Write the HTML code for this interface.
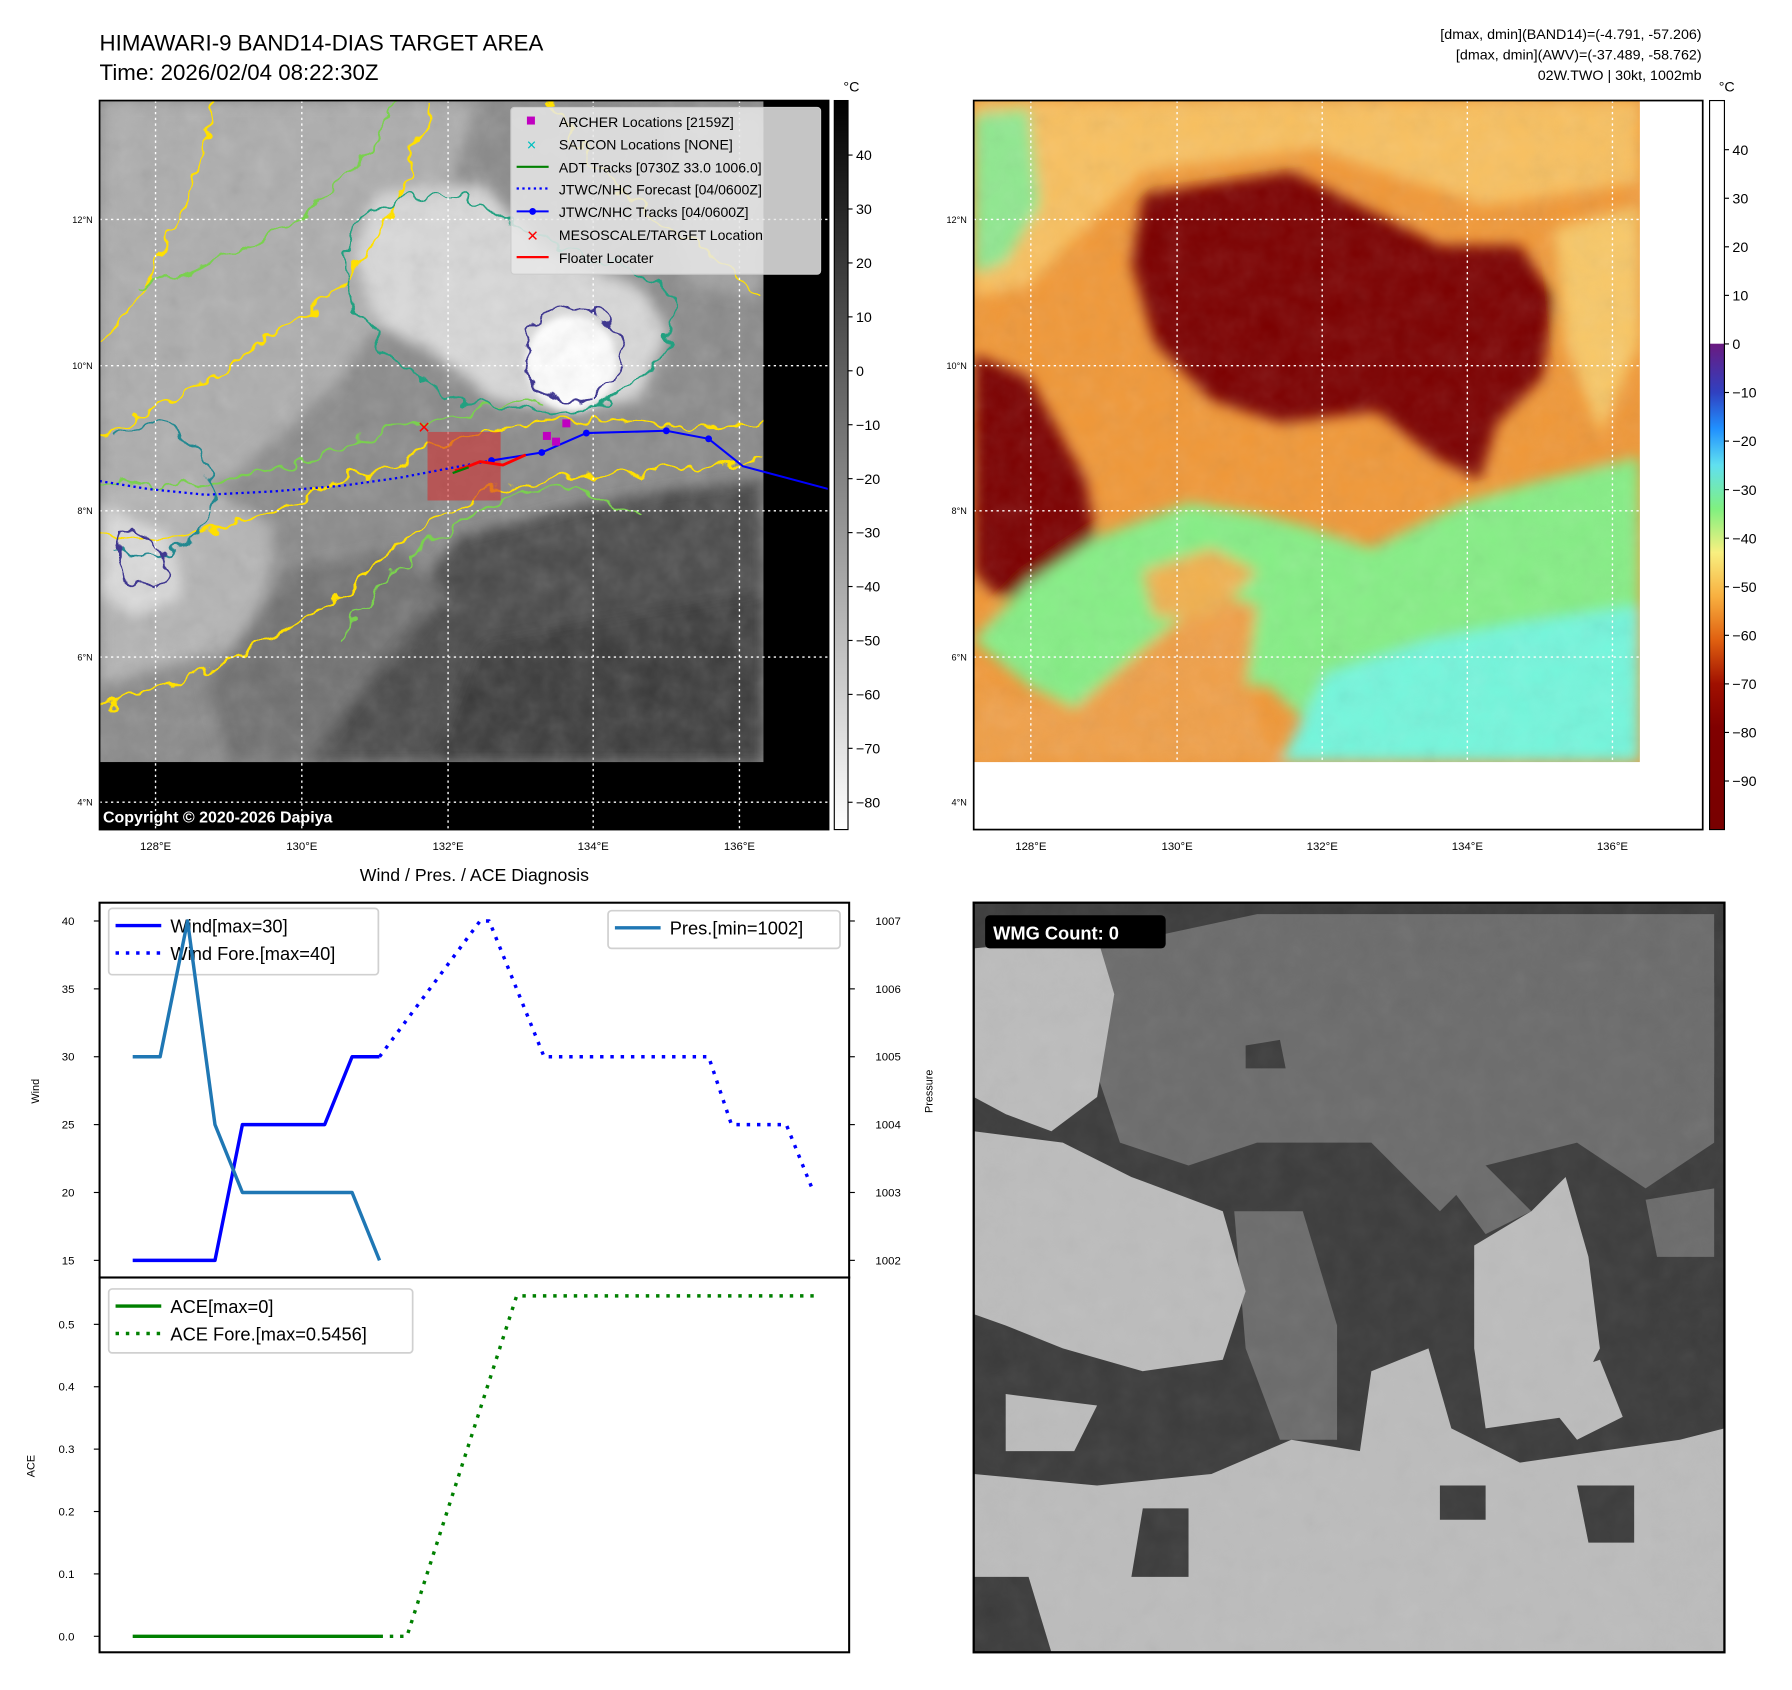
<!DOCTYPE html>
<html><head><meta charset="utf-8"><style>
html,body{margin:0;padding:0;background:#fff;}
svg{display:block;font-family:"Liberation Sans","DejaVu Sans",sans-serif;}
</style></head><body>
<svg id="fig" width="1792" height="1690" viewBox="0 0 1568 1479" xmlns="http://www.w3.org/2000/svg">
<defs>
<filter id="blur6" x="-20%" y="-20%" width="140%" height="140%"><feGaussianBlur stdDeviation="6"/></filter>
<filter id="blur3"><feGaussianBlur stdDeviation="3"/></filter>
<filter id="wig" x="-10%" y="-10%" width="120%" height="120%"><feTurbulence type="fractalNoise" baseFrequency="0.06" numOctaves="2" seed="3" result="n"/><feDisplacementMap in="SourceGraphic" in2="n" scale="22" xChannelSelector="R" yChannelSelector="G"/></filter>
<filter id="tex"><feTurbulence type="fractalNoise" baseFrequency="0.05" numOctaves="3" seed="7"/><feColorMatrix type="saturate" values="0"/></filter>
<linearGradient id="cbGray" x1="0" y1="0" x2="0" y2="1"><stop offset="0" stop-color="#000"/><stop offset="1" stop-color="#fff"/></linearGradient>
<linearGradient id="cbColor" x1="0" y1="0" x2="0" y2="1">
<stop offset="0" stop-color="#fff"/><stop offset="0.333" stop-color="#fff"/>
<stop offset="0.334" stop-color="#6a1a80"/><stop offset="0.40" stop-color="#3040c0"/><stop offset="0.45" stop-color="#2090ff"/>
<stop offset="0.50" stop-color="#60e0f0"/><stop offset="0.56" stop-color="#80f080"/><stop offset="0.62" stop-color="#f8f080"/>
<stop offset="0.68" stop-color="#f8b040"/><stop offset="0.74" stop-color="#e06010"/><stop offset="0.80" stop-color="#a01000"/>
<stop offset="0.86" stop-color="#800000"/><stop offset="1" stop-color="#780000"/></linearGradient>
<clipPath id="clipL"><rect x="87" y="88" width="581" height="579"/></clipPath>
<clipPath id="clipR"><rect x="852" y="88" width="583" height="579"/></clipPath>
<clipPath id="clipBR"><rect x="852" y="790" width="657" height="656"/></clipPath>
</defs>

<text x="87" y="44" font-size="19.5">HIMAWARI-9 BAND14-DIAS TARGET AREA</text>
<text x="87" y="70" font-size="19.5">Time: 2026/02/04 08:22:30Z</text>
<g font-size="12.5" text-anchor="end">
<text x="1489" y="34">[dmax, dmin](BAND14)=(-4.791, -57.206)</text>
<text x="1489" y="52">[dmax, dmin](AWV)=(-37.489, -58.762)</text>
<text x="1489" y="70">02W.TWO | 30kt, 1002mb</text>
</g>

<!-- LEFT MAP -->
<g>
<rect x="87" y="88" width="638" height="638" fill="#000"/>
<g clip-path="url(#clipL)">
<rect x="87" y="88" width="581" height="579" fill="#8a8a8a"/>
<g filter="url(#blur6)">
<polygon points="87,88 420,88 380,200 300,330 200,420 87,440" fill="#adadad"/>
<polygon points="87,430 170,420 240,460 230,560 87,600" fill="#b4b4b4"/>
<polygon points="87,440 150,470 160,520 120,540 87,520" fill="#dadada"/>
<polygon points="330,170 420,160 480,220 560,250 585,290 560,350 500,360 430,350 380,310 330,285 310,220" fill="#d8d8d8"/>
<polygon points="580,100 668,100 668,260 600,250" fill="#a0a0a0"/>
<polygon points="400,470 500,445 580,430 668,420 668,667 270,667 300,600 350,540" fill="#4a4a4a"/>
<polygon points="250,500 350,480 390,520 320,600 270,667 200,667 180,600" fill="#707070"/>
<polygon points="420,560 668,520 668,667 380,667" fill="#3a3a3a"/>
</g>
<ellipse cx="500" cy="318" rx="40" ry="42" fill="#fff" filter="url(#blur3)"/>
<rect x="87" y="88" width="581" height="579" filter="url(#tex)" opacity="0.2"/>
<g fill="none" stroke-width="2" filter="url(#wig)">
<path d="M87,470 C150,480 220,460 300,420 C360,400 400,380 460,370 C520,360 580,380 668,370" stroke="#ffe000"/>
<path d="M87,620 C160,600 240,560 300,520 C340,480 380,450 430,430 C500,410 560,420 668,400" stroke="#ffe000"/>
<path d="M87,380 C150,360 230,300 300,250 C340,200 360,150 380,88" stroke="#ffe000"/>
<path d="M87,300 C130,260 160,200 190,88" stroke="#ffe000"/>
<path d="M480,88 C520,150 560,190 620,220 C650,240 668,260 668,260" stroke="#ffe000"/>
<path d="M300,560 C330,500 380,470 430,440 C470,420 520,430 560,450" stroke="#7ad050"/>
<path d="M87,420 C150,430 230,420 300,390 C360,370 420,360 470,350" stroke="#7ad050"/>
<path d="M120,250 C200,230 260,200 300,160 C330,120 340,100 350,88" stroke="#7ad050"/>
<path d="M310,200 C330,170 400,160 440,190 C480,220 560,230 590,260 C590,330 540,350 500,360 C440,370 360,340 330,300 C300,260 300,230 310,200 Z" stroke="#20a080"/>
<path d="M100,380 C140,360 180,380 190,430 C180,480 140,500 100,480" stroke="#208890"/>
<path d="M470,280 C500,260 540,270 545,310 C540,350 500,365 470,340 C455,320 455,295 470,280 Z" stroke="#403890"/>
<path d="M105,465 C130,460 150,480 145,505 C130,520 110,515 105,495 Z" stroke="#403890"/>
</g>
</g>
<g stroke="#fff" stroke-width="1.2" stroke-dasharray="2,3">
<line x1="136" y1="88" x2="136" y2="726"/><line x1="264" y1="88" x2="264" y2="726"/><line x1="392" y1="88" x2="392" y2="726"/><line x1="519" y1="88" x2="519" y2="726"/><line x1="647" y1="88" x2="647" y2="726"/>
<line x1="87" y1="192" x2="725" y2="192"/><line x1="87" y1="320" x2="725" y2="320"/><line x1="87" y1="447" x2="725" y2="447"/><line x1="87" y1="575" x2="725" y2="575"/><line x1="87" y1="702" x2="725" y2="702"/>
</g>
<rect x="374" y="378" width="64" height="60" fill="#d03030" opacity="0.6"/>
<polyline points="87,421 130,428 180,433 240,430 300,425 350,418 392,410 430,403" fill="none" stroke="#0000ff" stroke-width="2" stroke-dasharray="2,3"/>
<polyline points="430,403 474,396 513,379 583,377 620,384 650,408 725,428" fill="none" stroke="#0000ff" stroke-width="1.8"/>
<g fill="#0000ff"><circle cx="430" cy="403" r="3"/><circle cx="474" cy="396" r="3"/><circle cx="513" cy="379" r="3"/><circle cx="583" cy="377" r="3"/><circle cx="620" cy="384" r="3"/></g>
<polyline points="398,412 410,408 420,404 440,407 460,398" fill="none" stroke="#ff0000" stroke-width="2.5"/>
<line x1="396" y1="414" x2="410" y2="409" stroke="#008000" stroke-width="2"/>
<text x="371" y="379" font-size="14" fill="#ff0000" font-weight="bold" text-anchor="middle">✕</text>
<g fill="#c000c0"><rect x="475" y="378" width="7" height="7"/><rect x="483" y="383" width="7" height="7"/><rect x="492" y="367" width="7" height="7"/></g>
<g>
<rect x="447" y="94" width="271" height="146" rx="3" fill="#e8e8e8" fill-opacity="0.85" stroke="#ccc"/>
<g font-size="12.3">
<rect x="461" y="102" width="7" height="7" fill="#c000c0"/><text x="489" y="111">ARCHER Locations [2159Z]</text>
<text x="465" y="131" font-size="11" fill="#00c0c0" text-anchor="middle" font-weight="bold">✕</text><text x="489" y="131">SATCON Locations [NONE]</text>
<line x1="452" y1="146" x2="480" y2="146" stroke="#008000" stroke-width="1.8"/><text x="489" y="151">ADT Tracks [0730Z 33.0 1006.0]</text>
<line x1="452" y1="165" x2="480" y2="165" stroke="#0000ff" stroke-width="2" stroke-dasharray="2,3"/><text x="489" y="170">JTWC/NHC Forecast [04/0600Z]</text>
<line x1="452" y1="185" x2="480" y2="185" stroke="#0000ff" stroke-width="1.8"/><circle cx="466" cy="185" r="3" fill="#0000ff"/><text x="489" y="190">JTWC/NHC Tracks [04/0600Z]</text>
<text x="466" y="211" font-size="13" fill="#ff0000" text-anchor="middle" font-weight="bold">✕</text><text x="489" y="210">MESOSCALE/TARGET Location</text>
<line x1="452" y1="225" x2="480" y2="225" stroke="#ff0000" stroke-width="2"/><text x="489" y="230">Floater Locater</text>
</g></g>
<rect x="87" y="88" width="638" height="638" fill="none" stroke="#000" stroke-width="1.5"/>
<text x="90" y="720" font-size="14" font-weight="bold" fill="#fff">Copyright © 2020-2026 Dapiya</text>
</g>
<g font-size="8" text-anchor="end">
<text x="81" y="195">12°N</text><text x="81" y="323">10°N</text><text x="81" y="450">8°N</text><text x="81" y="578">6°N</text><text x="81" y="705">4°N</text></g>
<g font-size="10" text-anchor="middle">
<text x="136" y="744">128°E</text><text x="264" y="744">130°E</text><text x="392" y="744">132°E</text><text x="519" y="744">134°E</text><text x="647" y="744">136°E</text></g>
<g>
<rect x="730" y="88" width="12" height="638" fill="url(#cbGray)" stroke="#000" stroke-width="1"/>
<text x="738" y="80" font-size="12.5">°C</text>
<g font-size="12.5" id="cbL"></g>
</g>

<!-- RIGHT MAP -->
<g>
<rect x="852" y="88" width="638" height="638" fill="#fff"/>
<g clip-path="url(#clipR)">
<rect x="852" y="88" width="583" height="579" fill="#f09838"/>
<g filter="url(#blur6)">
<polygon points="852,88 1435,88 1435,160 1300,180 1150,130 1000,150 900,250 852,260" fill="#f8c060"/>
<polygon points="852,100 900,95 910,180 880,230 852,240" fill="#90e890"/>
<polygon points="1360,200 1435,180 1435,300 1400,380 1370,300" fill="#f8c868"/>
<polygon points="1000,170 1130,150 1210,190 1260,215 1330,215 1360,260 1350,330 1310,370 1295,420 1255,400 1205,360 1120,370 1060,350 1010,300 990,230" fill="#7c0000"/>
<polygon points="852,310 900,330 950,420 962,490 925,530 870,520 852,500" fill="#7c0000"/>
<polygon points="852,560 900,510 960,470 1040,440 1100,450 1140,460 1200,480 1280,440 1350,420 1435,400 1435,667 1180,667 1110,600 1060,600 1000,620 960,630 900,600" fill="#86ee86"/>
<polygon points="852,600 940,620 1010,560 1060,520 1100,530 1090,600 1120,667 852,667" fill="#f0a048"/>
<polygon points="1120,667 1160,590 1250,560 1330,545 1435,530 1435,667" fill="#74f6dc"/>
<polygon points="1000,500 1060,480 1100,500 1060,540 1010,540" fill="#f0b050"/>
</g>
<rect x="852" y="88" width="583" height="579" filter="url(#tex)" opacity="0.12"/>
</g>
<g stroke="#fff" stroke-width="1.2" stroke-dasharray="2,3">
<line x1="902" y1="88" x2="902" y2="667"/><line x1="1030" y1="88" x2="1030" y2="667"/><line x1="1157" y1="88" x2="1157" y2="667"/><line x1="1284" y1="88" x2="1284" y2="667"/><line x1="1411" y1="88" x2="1411" y2="667"/>
<line x1="852" y1="192" x2="1435" y2="192"/><line x1="852" y1="320" x2="1435" y2="320"/><line x1="852" y1="447" x2="1435" y2="447"/><line x1="852" y1="575" x2="1435" y2="575"/>
</g>
<rect x="852" y="88" width="638" height="638" fill="none" stroke="#000" stroke-width="1.5"/>
</g>
<g font-size="8" text-anchor="end">
<text x="846" y="195">12°N</text><text x="846" y="323">10°N</text><text x="846" y="450">8°N</text><text x="846" y="578">6°N</text><text x="846" y="705">4°N</text></g>
<g font-size="10" text-anchor="middle">
<text x="902" y="744">128°E</text><text x="1030" y="744">130°E</text><text x="1157" y="744">132°E</text><text x="1284" y="744">134°E</text><text x="1411" y="744">136°E</text></g>
<g>
<rect x="1496" y="88" width="13" height="638" fill="url(#cbColor)" stroke="#000" stroke-width="1"/>
<text x="1504" y="80" font-size="12.5">°C</text>
<g font-size="12.5" id="cbR"></g>
</g>

<text x="415" y="771" font-size="15.5" text-anchor="middle">Wind / Pres. / ACE Diagnosis</text>
<g id="chart"></g>

<!-- BOTTOM RIGHT -->
<g>
<g clip-path="url(#clipBR)">
<rect x="852" y="790" width="657" height="656" fill="#3c3c3c"/>
<g fill="#6c6c6c">
<polygon points="960,830 1100,800 1500,800 1500,1000 1440,1040 1380,1000 1300,1020 1260,1060 1200,1000 1100,1000 1040,1020 980,1000 960,940"/>
<polygon points="1080,1060 1140,1060 1170,1160 1170,1260 1120,1260 1090,1180"/>
<polygon points="1270,1040 1300,1020 1340,1060 1300,1080"/>
<polygon points="1440,1050 1500,1040 1500,1100 1450,1100"/>
<polygon points="1370,870 1500,860 1500,940 1380,940"/>
</g>
<g fill="#bcbcbc">
<polygon points="852,830 960,820 975,870 960,960 920,990 880,975 852,960"/>
<polygon points="852,990 930,1000 990,1030 1070,1060 1090,1130 1070,1190 1000,1200 930,1180 880,1160 852,1150"/>
<polygon points="1290,1090 1340,1060 1370,1030 1390,1100 1400,1180 1370,1240 1300,1250 1290,1180"/>
<polygon points="852,1290 960,1300 1060,1290 1130,1260 1190,1270 1200,1200 1250,1180 1270,1250 1330,1280 1400,1270 1470,1260 1509,1250 1509,1446 852,1446"/>
<polygon points="1340,1210 1400,1190 1420,1240 1380,1260"/>
<polygon points="880,1220 960,1230 940,1270 880,1270"/>
</g>
<g fill="#3c3c3c">
<polygon points="1000,1320 1040,1320 1040,1380 990,1380"/>
<polygon points="1380,1300 1430,1300 1430,1350 1390,1350"/>
<polygon points="852,1380 900,1380 920,1446 852,1446"/>
<polygon points="1260,1300 1300,1300 1300,1330 1260,1330"/>
<polygon points="1090,915 1120,910 1125,935 1090,935"/>
</g>
<rect x="852" y="790" width="657" height="656" filter="url(#tex)" opacity="0.08"/>
</g>
<rect x="852" y="790" width="657" height="656" fill="none" stroke="#000" stroke-width="2"/>
<rect x="862" y="801" width="158" height="29" rx="4" fill="#000"/>
<text x="869" y="822" font-size="16" font-weight="bold" fill="#fff">WMG Count: 0</text>
</g>
</svg>
<script>
const obsHours = [0, 6, 12, 18, 24, 30, 36, 42, 48, 54];
const windObs = [15, 15, 15, 15, 25, 25, 25, 25, 30, 30];
const presObs = [1005, 1005, 1007, 1004, 1003, 1003, 1003, 1003, 1003, 1002];
const foreHours = [54, 76, 78, 90, 126, 131, 143, 149];
const windFore = [30, 40, 40, 30, 30, 25, 25, 20];
const aceObs = [0, 0, 0, 0, 0, 0, 0, 0, 0, 0];
const aceForeHours = [54, 60, 84, 149];
const aceFore = [0, 0, 0.5456, 0.5456];
const windTicks = [15, 20, 25, 30, 35, 40];
const presTicks = [1002, 1003, 1004, 1005, 1006, 1007];
const aceTicks = [0.0, 0.1, 0.2, 0.3, 0.4, 0.5];
const cbLTicks = [40, 30, 20, 10, 0, -10, -20, -30, -40, -50, -60, -70, -80];
const cbRTicks = [40, 30, 20, 10, 0, -10, -20, -30, -40, -50, -60, -70, -80, -90];

const NS = 'http://www.w3.org/2000/svg';
function mk(tag, attrs, parent) { const e = document.createElementNS(NS, tag); for (const k in attrs) e.setAttribute(k, attrs[k]); parent.appendChild(e); return e; }
const minus = v => String(v).replace('-', '\u2212');

const cbL = document.getElementById('cbL');
cbLTicks.forEach(v => { const y = 324.5 - v * 4.72;
  const t = mk('text', {x: 749, y: y + 4.5}, cbL); t.textContent = minus(v);
   
  mk('line', {x1: 742, x2: 746, y1: y, y2: y, stroke: '#000'}, cbL); });
const cbR = document.getElementById('cbR');
cbRTicks.forEach(v => { const y = 301 - v * 4.25;
  const t = mk('text', {x: 1516, y: y + 4.5}, cbR); t.textContent = minus(v);
   
  mk('line', {x1: 1509, x2: 1513, y1: y, y2: y, stroke: '#000'}, cbR); });

const X = h => 116 + h * 4;
const Yw = v => 1103 - (v - 15) * (297 / 25);
const Yp = v => 1103 - (v - 1002) * (297 / 5);
const Ya = v => 1432 - v * (273 / 0.5);

const g = document.getElementById('chart');
mk('rect', {x: 87, y: 790, width: 656, height: 656, fill: '#fff'}, g);
function line(xs, ys, fx, fy, color, dash, name) {
  const p = mk('polyline', {points: xs.map((h, i) => fx(h) + ',' + fy(ys[i])).join(' '), fill: 'none', stroke: color, 'stroke-width': 3, 'stroke-dasharray': dash || 'none', 'stroke-linejoin': 'round'}, g);
  
  
}
function legend(x, y, w, h, items, name) {
  const lg = mk('g', {}, g);
  
  
  mk('rect', {x: x, y: y, width: w, height: h, rx: 3, fill: '#fff', 'fill-opacity': 0.85, stroke: '#d0d0d0', 'stroke-width': 1.5}, lg);
  items.forEach((it, i) => { const yy = y + 15 + i * 24;
    mk('line', {x1: x + 6, x2: x + 46, y1: yy, y2: yy, stroke: it[1], 'stroke-width': 3, 'stroke-dasharray': it[2] || 'none'}, lg);
    const t = mk('text', {x: x + 54, y: yy + 6, 'font-size': 16}, lg); t.textContent = it[0]; });
}
line(obsHours, windObs, X, Yw, '#0000ff', null, 'wind-line');
line(foreHours, windFore, X, Yw, '#0000ff', '3,6', 'wind-forecast-line');
legend(95, 795, 236, 58, [['Wind[max=30]', '#0000ff'], ['Wind Fore.[max=40]', '#0000ff', '3,6']], 'wind-legend');
line(obsHours, presObs, X, Yp, '#1f77b4', null, 'pressure-line');
legend(532, 797, 203, 33, [['Pres.[min=1002]', '#1f77b4']], 'pressure-legend');
line(obsHours, aceObs, X, Ya, '#008000', null, 'ace-line');
line(aceForeHours, aceFore, X, Ya, '#008000', '3,6', 'ace-forecast-line');
legend(95, 1128, 266, 56, [['ACE[max=0]', '#008000'], ['ACE Fore.[max=0.5456]', '#008000', '3,6']], 'ace-legend');

mk('rect', {x: 87, y: 790, width: 656, height: 328, fill: 'none', stroke: '#000', 'stroke-width': 1.8}, g);
mk('rect', {x: 87, y: 1118, width: 656, height: 328, fill: 'none', stroke: '#000', 'stroke-width': 1.8}, g);

function ticks(arr, fy, side, fmt, name) {
  arr.forEach(v => { const y = fy(v);
    if (side === 'L') { mk('line', {x1: 82, x2: 87, y1: y, y2: y, stroke: '#000'}, g);
      const t = mk('text', {x: 65, y: y + 3.5, 'font-size': 10, 'text-anchor': 'end'}, g); t.textContent = fmt(v);
        }
    else { mk('line', {x1: 743, x2: 748, y1: y, y2: y, stroke: '#000'}, g);
      const t = mk('text', {x: 766, y: y + 3.5, 'font-size': 10}, g); t.textContent = fmt(v);
        }
  });
}
ticks(windTicks, Yw, 'L', v => String(v), 'wind-tick');
ticks(presTicks, Yp, 'R', v => String(v), 'pressure-tick');
ticks(aceTicks, Ya, 'L', v => v.toFixed(1), 'ace-tick');

function ylab(txt, x, y, name) { const t = mk('text', {x: x, y: y, 'font-size': 9.5, 'text-anchor': 'middle', transform: 'rotate(-90 ' + x + ' ' + y + ')'}, g); t.textContent = txt;
    }
ylab('Wind', 34, 955, 'wind-axis-title');
ylab('Pressure', 816, 955, 'pressure-axis-title');
ylab('ACE', 30, 1283, 'ace-axis-title');
</script>
</body></html>
